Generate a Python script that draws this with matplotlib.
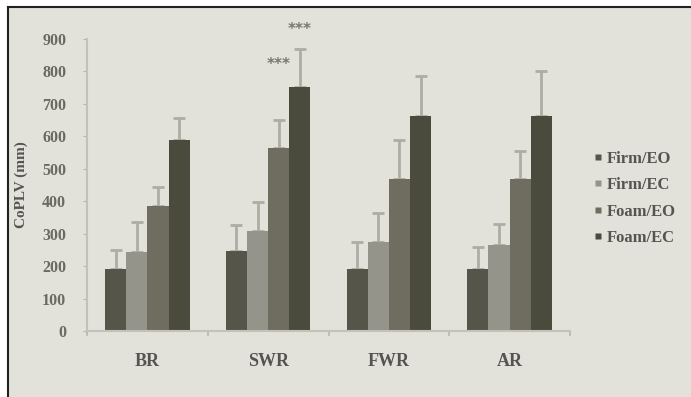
import matplotlib
matplotlib.use("Agg")
import matplotlib.pyplot as plt
import numpy as np
from matplotlib.lines import Line2D
from matplotlib.patches import Rectangle

categories = ["BR", "SWR", "FWR", "AR"]
series = ["Firm/EO", "Firm/EC", "Foam/EO", "Foam/EC"]
firm_eo = [190, 248, 192, 192]
firm_ec = [245, 308, 275, 265]
foam_eo = [385, 565, 470, 470]
foam_ec = [588, 752, 663, 663]
firm_eo_sd = [60, 80, 82, 66]
firm_ec_sd = [90, 90, 90, 65]
foam_eo_sd = [58, 85, 120, 85]
foam_ec_sd = [67, 118, 122, 137]
yticks = [0, 100, 200, 300, 400, 500, 600, 700, 800, 900]
sig_marks = [("SWR", "Foam/EO", 820, "***"), ("SWR", "Foam/EC", 930, "***")]

values = [firm_eo, firm_ec, foam_eo, foam_ec]
errors = [firm_eo_sd, firm_ec_sd, foam_eo_sd, foam_ec_sd]
colors = ["#56554a", "#95948b", "#6e6d5f", "#4a4a3d"]
bg = "#e2e2da"
serif = ["Liberation Serif", "DejaVu Serif"]

fig = plt.figure(figsize=(6.91, 3.97), dpi=100)
fig.patch.set_facecolor("white")
# panel background with dark frame on left/top
fig.add_artist(Rectangle((8 / 691, 0), 1, 1 - 7 / 397, transform=fig.transFigure,
                         facecolor=bg, edgecolor="none", zorder=-10))
fig.add_artist(Line2D([8 / 691, 8 / 691], [0, 1 - 7 / 397], transform=fig.transFigure,
                      color="#222222", lw=1.5, zorder=-5))
fig.add_artist(Line2D([8 / 691, 1], [1 - 7 / 397, 1 - 7 / 397], transform=fig.transFigure,
                      color="#222222", lw=1.5, zorder=-5))

ax = fig.add_axes([87 / 691, 1 - 331 / 397, (570 - 87) / 691, (331 - 39) / 397])
ax.set_facecolor("none")
ax.set_zorder(1)

x = np.arange(len(categories))
bw = 0.175
for i, (vals, errs, c) in enumerate(zip(values, errors, colors)):
    pos = x + (i - 1.5) * bw
    ax.bar(pos, vals, width=bw, color=c, edgecolor="none", zorder=2, label=series[i])
    ax.errorbar(pos, vals, yerr=[np.zeros(len(errs)), errs], fmt="none",
                ecolor="#aeada4", elinewidth=2, capsize=4, capthick=2, zorder=1)

for cat, ser, yv, txt in sig_marks:
    xi = categories.index(cat) + (series.index(ser) - 1.5) * bw
    ax.text(xi, yv, txt, ha="center", va="center", fontsize=11, color="#77776f",
            fontweight="bold")

ax.set_xlim(-0.5, len(categories) - 0.5)
ax.set_ylim(0, 900)
ax.set_yticks(yticks)
ax.set_yticklabels([str(t) for t in yticks], family=serif, fontweight="bold",
                   fontsize=11.5, color="#6a6a62")
ax.set_xticks(x)
ax.set_xticklabels(categories, family=serif, fontweight="bold", fontsize=13,
                   color="#555550")
ax.tick_params(axis="x", length=0, pad=16)
ax.tick_params(axis="y", length=3, color="#b5b5ac", pad=12)
for b in np.arange(-0.5, len(categories) + 0.5, 1.0):
    ax.plot([b, b], [0, -12], color="#b5b5ac", lw=1.2, clip_on=False)
for s in ["top", "right"]:
    ax.spines[s].set_visible(False)
ax.spines["left"].set_color("#c2c2b8")
ax.spines["bottom"].set_color("#c2c2b8")
ax.spines["left"].set_linewidth(1.5)
ax.spines["bottom"].set_linewidth(1.5)
ax.set_ylabel("CoPLV (mm)", family=serif, fontweight="bold", fontsize=11,
              color="#555550", labelpad=10)

handles = [Line2D([0], [0], marker="s", linestyle="none", markersize=5,
                  markerfacecolor=c, markeredgecolor="none") for c in colors]
leg = fig.legend(handles, series, loc="upper left", bbox_to_anchor=(578 / 691, 1 - 136 / 397),
                 frameon=False, prop={"family": serif, "weight": "bold", "size": 12},
                 handlelength=0.6, handletextpad=0.2, labelspacing=0.62)
for t in leg.get_texts():
    t.set_color("#555550")

fig.savefig("out.png", dpi=100, facecolor=fig.get_facecolor())
